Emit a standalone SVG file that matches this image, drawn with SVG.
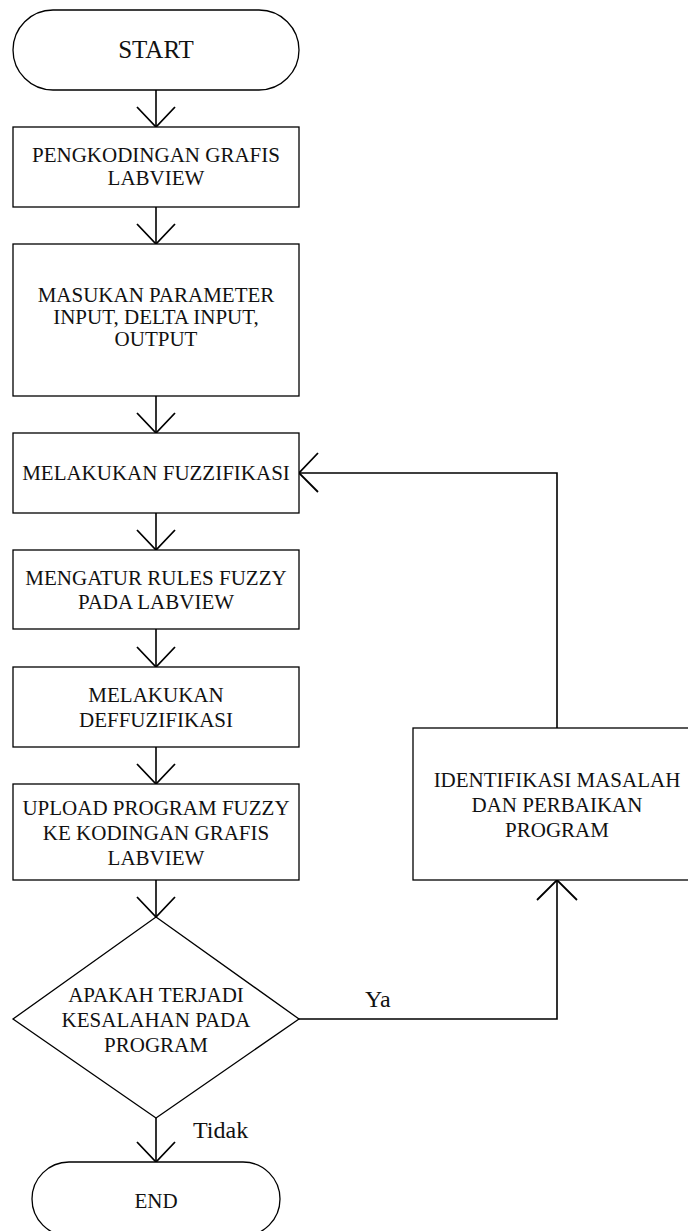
<svg xmlns="http://www.w3.org/2000/svg" width="688" height="1231" viewBox="0 0 688 1231">
<style>
.shape{fill:#fff;stroke:#000;stroke-width:1.3}
.t{font-family:"Liberation Serif","Times New Roman",serif;font-size:21px;fill:#111;text-anchor:middle}
.lbl{font-family:"Liberation Serif","Times New Roman",serif;font-size:24px;fill:#111}
.c{fill:none;stroke:#000;stroke-width:1.6}
.ah{fill:none;stroke:#000;stroke-width:1.8}
</style>
<rect width="688" height="1231" fill="#fff"/>
<g id="connectors">
<line class="c" x1="156" y1="90" x2="156" y2="127"/>
<polyline class="ah" points="137,107 156,127 175,107"/>
<line class="c" x1="156" y1="207" x2="156" y2="244"/>
<polyline class="ah" points="137,224 156,244 175,224"/>
<line class="c" x1="156" y1="396" x2="156" y2="433"/>
<polyline class="ah" points="137,413 156,433 175,413"/>
<line class="c" x1="156" y1="513" x2="156" y2="550"/>
<polyline class="ah" points="137,530 156,550 175,530"/>
<line class="c" x1="156" y1="629" x2="156" y2="667"/>
<polyline class="ah" points="137,647 156,667 175,647"/>
<line class="c" x1="156" y1="747" x2="156" y2="784"/>
<polyline class="ah" points="137,764 156,784 175,764"/>
<line class="c" x1="156" y1="880" x2="156" y2="917"/>
<polyline class="ah" points="137,897 156,917 175,897"/>
<line class="c" x1="156" y1="1118" x2="156" y2="1162"/>
<polyline class="ah" points="137,1142 156,1162 175,1142"/>
<polyline class="c" points="299,1019 557,1019 557,880"/>
<polyline class="ah" points="537,900 557,880 577,900"/>
<polyline class="c" points="557,728 557,473 299,473"/>
<polyline class="ah" points="318,453 299,473 318,492"/>
</g>
<g id="start">
<rect class="shape" x="13" y="10" width="286" height="80" rx="40" ry="40"/>
<text class="t" x="156" y="58" style="font-size:25px">START</text>
</g>
<g id="box1">
<rect class="shape" x="13" y="127" width="286" height="80"/>
<text class="t" x="156" y="162">PENGKODINGAN GRAFIS</text>
<text class="t" x="156" y="185">LABVIEW</text>
</g>
<g id="box2">
<rect class="shape" x="13" y="244" width="286" height="152"/>
<text class="t" x="156" y="302">MASUKAN PARAMETER</text>
<text class="t" x="156" y="324">INPUT, DELTA INPUT,</text>
<text class="t" x="156" y="346">OUTPUT</text>
</g>
<g id="box3">
<rect class="shape" x="13" y="433" width="286" height="80"/>
<text class="t" x="156" y="480">MELAKUKAN FUZZIFIKASI</text>
</g>
<g id="box4">
<rect class="shape" x="13" y="550" width="286" height="79"/>
<text class="t" x="156" y="585">MENGATUR RULES FUZZY</text>
<text class="t" x="156" y="609">PADA LABVIEW</text>
</g>
<g id="box5">
<rect class="shape" x="13" y="667" width="286" height="80"/>
<text class="t" x="156" y="702">MELAKUKAN</text>
<text class="t" x="156" y="727">DEFFUZIFIKASI</text>
</g>
<g id="box6">
<rect class="shape" x="13" y="784" width="286" height="96"/>
<text class="t" x="156" y="815">UPLOAD PROGRAM FUZZY</text>
<text class="t" x="156" y="840">KE KODINGAN GRAFIS</text>
<text class="t" x="156" y="865">LABVIEW</text>
</g>
<g id="decision">
<polygon class="shape" points="156,917 299,1019 156,1118 13,1019"/>
<text class="t" x="156" y="1002">APAKAH TERJADI</text>
<text class="t" x="156" y="1027">KESALAHAN PADA</text>
<text class="t" x="156" y="1052">PROGRAM</text>
</g>
<g id="identify">
<rect class="shape" x="413" y="728" width="277" height="152"/>
<text class="t" x="557" y="787">IDENTIFIKASI MASALAH</text>
<text class="t" x="557" y="812">DAN PERBAIKAN</text>
<text class="t" x="557" y="837">PROGRAM</text>
</g>
<g id="end">
<rect class="shape" x="32" y="1162" width="248" height="74" rx="37" ry="37"/>
<text class="t" x="156" y="1208">END</text>
</g>
<g id="labels">
<text class="lbl" x="365" y="1007">Ya</text>
<text class="lbl" x="193" y="1138">Tidak</text>
</g>
</svg>
